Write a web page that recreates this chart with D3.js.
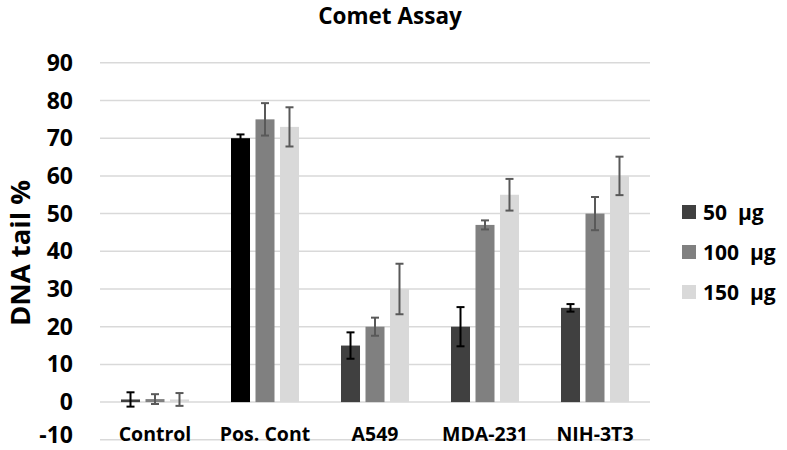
<!DOCTYPE html>
<html><head><meta charset="utf-8">
<script src="https://cdn.jsdelivr.net/npm/d3@7"></script>
<style>body{margin:0;background:#fff}svg{display:block}text{font-family:"Open Sans",sans-serif;font-weight:bold;fill:#000}</style>
</head><body><svg id="c" width="787" height="450"></svg>
<script>
const categories = ["Control", "Pos. Cont", "A549", "MDA-231", "NIH-3T3"];
const seriesNames = ["50  µg", "100  µg", "150  µg"];
const values50 = [0.7, 70, 15, 20, 25];
const values100 = [0.8, 75, 20, 47, 50];
const values150 = [0.7, 73, 30, 55, 60];
const err50 = [1.9, 1.0, 3.5, 5.2, 1.0];
const err100 = [1.3, 4.3, 2.4, 1.2, 4.4];
const err150 = [1.7, 5.2, 6.7, 4.2, 5.1];
const yTicks = [-10, 0, 10, 20, 30, 40, 50, 60, 70, 80, 90];
const seriesColors = ["#404040", "#808080", "#d9d9d9"];
const errColors = ["#000000", "#595959", "#595959"];
const posContColor = "#000000";

const vals = [values50, values100, values150];
const errs = [err50, err100, err150];

const svg = d3.select("#c");
const x0 = d3.scaleBand().domain(categories).range([100, 650]).paddingInner(0);
const x1 = d3.scaleBand().domain(d3.range(3)).range([0, 68]).paddingInner(0.224);
const off = (x0.bandwidth() - 68) / 2;
const y = d3.scaleLinear().domain([-10, 90]).range([439.8, 62.8]);

// title
svg.append("text").attr("x", 390).attr("y", 24).attr("text-anchor", "middle")
  .style("font-size", "22.5px").text("Comet Assay");

// gridlines
svg.append("g").selectAll("line").data(yTicks).join("line")
  .attr("x1", 100).attr("x2", 650)
  .attr("y1", d => y(d)).attr("y2", d => y(d))
  .attr("stroke", "#d9d9d9").attr("stroke-width", 1.5);

// y axis tick labels
const yAxis = d3.axisLeft(y).tickValues(yTicks).tickFormat(d => String(d)).tickSize(0).tickPadding(0);
const yg = svg.append("g").attr("transform", "translate(73,0)").call(yAxis);
yg.select(".domain").remove();
yg.selectAll("text").style("font-size", "23px").style("font-family", "'Open Sans',sans-serif")
  .style("font-weight", "bold").attr("fill", "#000")
  .attr("dy", d => d === yTicks[0] ? "0.1em" : "0.33em");

// y axis title
svg.append("text").attr("transform", "translate(30,253) rotate(-90)")
  .attr("text-anchor", "middle").style("font-size", "27.5px").text("DNA tail %");

// bars
const data = [];
categories.forEach((c, ci) => {
  for (let s = 0; s < 3; s++) data.push({c, ci, s, v: vals[s][ci], e: errs[s][ci]});
});
const bx = d => x0(d.c) + off + x1(d.s);
svg.append("g").selectAll("rect").data(data).join("rect")
  .attr("x", bx).attr("width", x1.bandwidth())
  .attr("y", d => y(Math.max(0, d.v))).attr("height", d => Math.abs(y(d.v) - y(0)))
  .attr("fill", d => (d.ci === 1 && d.s === 0) ? posContColor : seriesColors[d.s]);

// error bars
const eg = svg.append("g").selectAll("g").data(data).join("g")
  .attr("stroke", d => errColors[d.s]).attr("stroke-width", 2);
eg.append("line")
  .attr("x1", d => bx(d) + x1.bandwidth() / 2).attr("x2", d => bx(d) + x1.bandwidth() / 2)
  .attr("y1", d => y(d.v + d.e)).attr("y2", d => y(d.v - d.e));
eg.append("line")
  .attr("x1", d => bx(d) + x1.bandwidth() / 2 - 4).attr("x2", d => bx(d) + x1.bandwidth() / 2 + 4)
  .attr("y1", d => y(d.v + d.e)).attr("y2", d => y(d.v + d.e));
eg.append("line")
  .attr("x1", d => bx(d) + x1.bandwidth() / 2 - 4).attr("x2", d => bx(d) + x1.bandwidth() / 2 + 4)
  .attr("y1", d => y(d.v - d.e)).attr("y2", d => y(d.v - d.e));

// category labels
svg.append("g").selectAll("text").data(categories).join("text")
  .attr("x", d => x0(d) + x0.bandwidth() / 2).attr("y", 441)
  .attr("text-anchor", "middle").style("font-size", "19.5px").text(d => d);

// legend
const lg = svg.append("g").selectAll("g").data(seriesNames).join("g")
  .attr("transform", (d, i) => `translate(682,${212 + i * 40})`);
lg.append("rect").attr("x", 0).attr("y", -7).attr("width", 14).attr("height", 14)
  .attr("fill", (d, i) => seriesColors[i]);
lg.append("text").attr("x", 21).attr("y", 0).attr("dy", "0.36em")
  .style("font-size", "21px").style("white-space", "pre").attr("xml:space", "preserve").text(d => d);
</script></body></html>
